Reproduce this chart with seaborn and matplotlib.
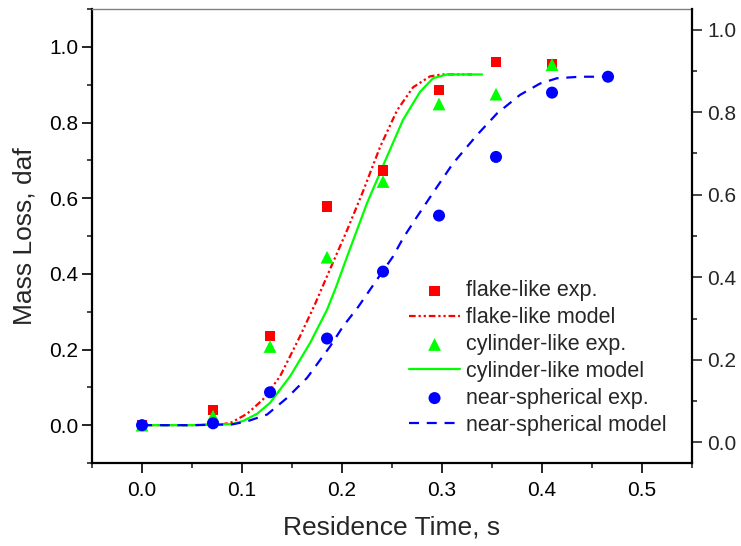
import numpy as np
import matplotlib
matplotlib.use("Agg")
import matplotlib.pyplot as plt
from matplotlib.ticker import MultipleLocator, FormatStrFormatter
import seaborn as sns

# =========================
# Data
# =========================
time_exp = [0.0, 0.071, 0.128, 0.185, 0.241, 0.297, 0.354, 0.410]
flake_exp = [0.0, 0.040, 0.235, 0.578, 0.673, 0.886, 0.960, 0.954]
cyl_exp = [0.0, 0.024, 0.208, 0.444, 0.644, 0.849, 0.875, 0.953]

time_sph = [0.0, 0.071, 0.128, 0.185, 0.241, 0.297, 0.354, 0.410, 0.466]
sph_exp = [0.0, 0.005, 0.087, 0.229, 0.406, 0.554, 0.709, 0.879, 0.921]

flake_model_t = [0.0, 0.05, 0.08, 0.09, 0.105, 0.121, 0.138, 0.158, 0.173,
                 0.186, 0.205, 0.221, 0.238, 0.255, 0.271, 0.288, 0.30, 0.33]
flake_model = [0.0, 0.0, 0.002, 0.008, 0.03, 0.068, 0.129, 0.235, 0.32,
               0.40, 0.515, 0.618, 0.735, 0.832, 0.893, 0.922, 0.927, 0.927]

cyl_model_t = [0.0, 0.05, 0.09, 0.101, 0.115, 0.128, 0.148, 0.168, 0.185,
               0.194, 0.205, 0.225, 0.245, 0.261, 0.278, 0.291, 0.305, 0.34]
cyl_model = [0.0, 0.0, 0.003, 0.011, 0.03, 0.059, 0.129, 0.217, 0.305,
             0.365, 0.445, 0.587, 0.71, 0.807, 0.881, 0.917, 0.927, 0.927]

sph_model_t = [0.0, 0.05, 0.09, 0.105, 0.125, 0.145, 0.165, 0.188, 0.201,
               0.216, 0.235, 0.251, 0.261, 0.275, 0.293, 0.311, 0.335, 0.355,
               0.378, 0.398, 0.415, 0.438, 0.475]
sph_model = [0.0, 0.0, 0.002, 0.01, 0.028, 0.072, 0.125, 0.208, 0.261,
             0.312, 0.385, 0.446, 0.494, 0.551, 0.622, 0.692, 0.767, 0.824,
             0.873, 0.903, 0.917, 0.921, 0.921]

# =========================
# Style
# =========================
sns.set_style("ticks")
plt.rcParams["font.family"] = ["Liberation Sans", "DejaVu Sans"]

fig = plt.figure(figsize=(7.41, 5.46), dpi=100)
ax = fig.add_axes([0.1242, 0.152, 0.8097, 0.8315])

RED, GREEN, BLUE = "#FF0000", "#00FF00", "#0000FF"

sns.scatterplot(x=time_exp, y=flake_exp, marker="s", color=RED, s=55,
                edgecolor="none", label="flake-like exp.", ax=ax, zorder=3)
sns.lineplot(x=flake_model_t, y=flake_model, color=RED, lw=1.6,
             linestyle=(0, (3, 1.3, 1, 1.3, 1, 1.3)), sort=False,
             label="flake-like model", ax=ax, zorder=2)
sns.scatterplot(x=time_exp, y=cyl_exp, marker="^", color=GREEN, s=85,
                edgecolor="none", label="cylinder-like exp.", ax=ax, zorder=3)
sns.lineplot(x=cyl_model_t, y=cyl_model, color=GREEN, lw=1.6,
             sort=False, label="cylinder-like model", ax=ax, zorder=2)
sns.scatterplot(x=time_sph, y=sph_exp, marker="o", color=BLUE, s=75,
                edgecolor="none", label="near-spherical exp.", ax=ax, zorder=3)
sns.lineplot(x=sph_model_t, y=sph_model, color=BLUE, lw=1.6,
             linestyle=(0, (4.5, 3.5)), sort=False,
             label="near-spherical model", ax=ax, zorder=2)

# =========================
# Axes
# =========================
ax.set_xlim(-0.05, 0.55)
ax.set_ylim(-0.1, 1.1)
ax.xaxis.set_major_locator(MultipleLocator(0.1))
ax.xaxis.set_minor_locator(MultipleLocator(0.05))
ax.yaxis.set_major_locator(MultipleLocator(0.2))
ax.yaxis.set_minor_locator(MultipleLocator(0.1))
ax.xaxis.set_major_formatter(FormatStrFormatter("%.1f"))
ax.yaxis.set_major_formatter(FormatStrFormatter("%.1f"))

ax.tick_params(axis="both", which="major", direction="out", length=7,
               width=1.2, labelsize=15, colors="black")
ax.tick_params(axis="both", which="minor", direction="out", length=3.6,
               width=1.2)
ax.tick_params(axis="x", pad=6)
ax.tick_params(axis="y", pad=3)
ax.tick_params(top=False, right=False, which="both")

for side in ["left", "bottom"]:
    ax.spines[side].set_linewidth(1.6)
    ax.spines[side].set_color("black")
ax.spines["top"].set_color("#808080")
ax.spines["top"].set_linewidth(1.0)
ax.spines["right"].set_visible(False)

ax.set_xlabel("Residence Time, s", fontsize=19, labelpad=11)
ax.set_ylabel("Mass Loss, daf", fontsize=19, labelpad=9)

# right-hand axis
ax2 = ax.twinx()
ax2.set_ylim(-0.05, 1.05)
ax2.yaxis.set_major_locator(MultipleLocator(0.2))
ax2.yaxis.set_minor_locator(MultipleLocator(0.1))
ax2.yaxis.set_major_formatter(FormatStrFormatter("%.1f"))
ax2.tick_params(axis="y", which="major", direction="out", length=7,
                width=1.2, labelsize=15, pad=4)
ax2.tick_params(axis="y", which="minor", direction="out", length=3.6,
                width=1.2)
for side in ["left", "bottom", "top"]:
    ax2.spines[side].set_visible(False)
ax2.spines["right"].set_linewidth(1.6)
ax2.spines["right"].set_color("black")

# legend
leg = ax.legend(loc="upper left", bbox_to_anchor=(0.514, 0.421),
                borderaxespad=0, frameon=False, fontsize=15.5,
                handlelength=2.37, handletextpad=0.28, labelspacing=0.27)

fig.savefig("out.png", dpi=100)
